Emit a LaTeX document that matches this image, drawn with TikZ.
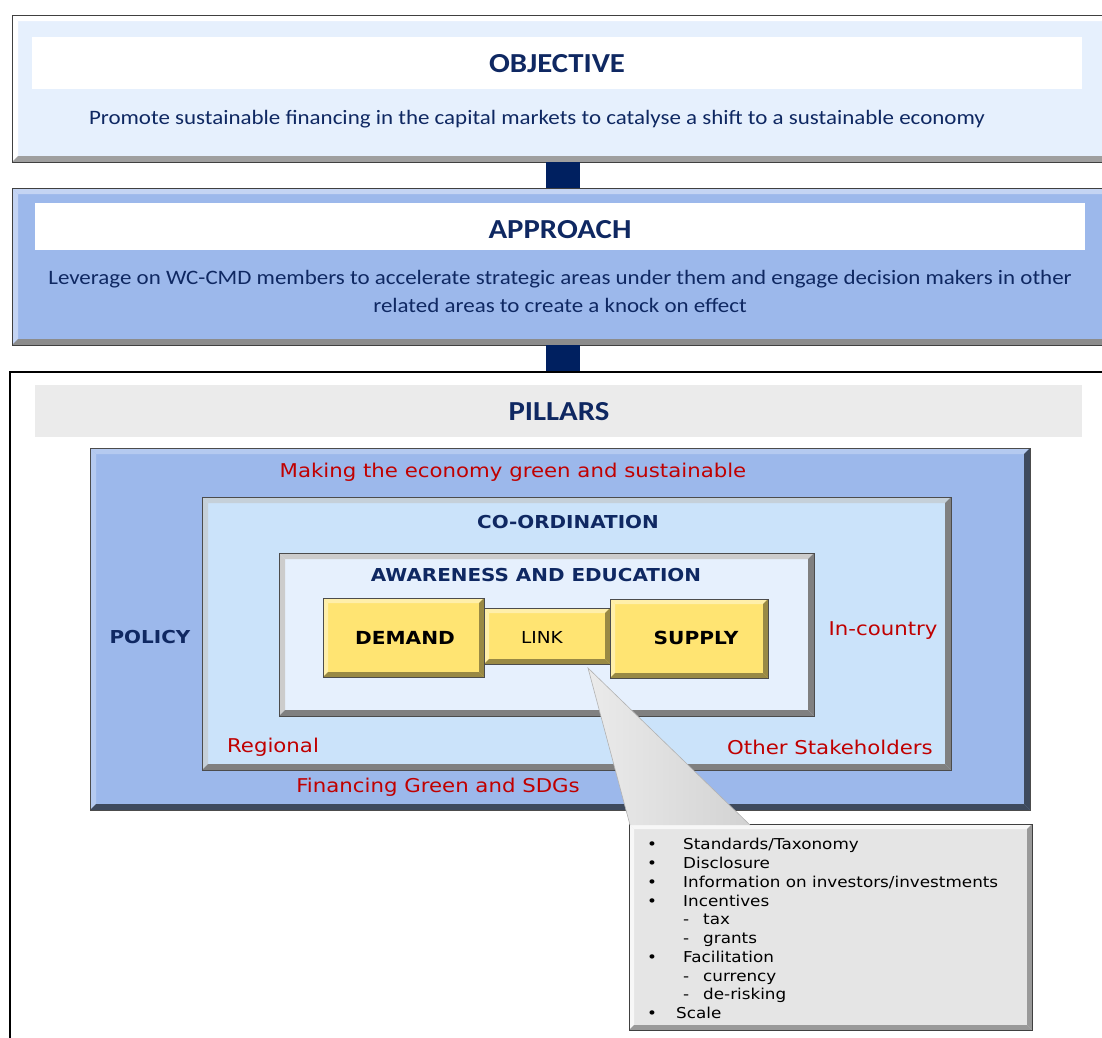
\documentclass[tikz,border=0pt]{standalone}
\usepackage{fontspec}
\setmainfont[FakeStretch=1.12]{Carlito}
\newfontfamily\vfont[FakeStretch=1.12]{DejaVu Sans}
\definecolor{navy}{HTML}{0F2862}
\definecolor{barnavy}{HTML}{002060}
\definecolor{redtxt}{HTML}{C00000}
\definecolor{objfill}{HTML}{E6F0FD}
\definecolor{bluefill}{HTML}{9CB8EB}
\definecolor{coordfill}{HTML}{CBE3FA}
\definecolor{awfill}{HTML}{E6F0FD}
\definecolor{yel}{HTML}{FFE472}
\definecolor{callfill}{HTML}{E5E5E5}
\tikzset{
  box/.style={anchor=north west, inner sep=0pt, outer sep=0pt, fill=#1},
  band/.style={anchor=north west, inner sep=0pt, outer sep=0pt, fill=#1},
  title/.style={font=\bfseries\fontsize{27.5}{32}\selectfont, text=navy, inner sep=0pt},
  body/.style={font=\fontsize{20.5}{28}\selectfont, text=navy, inner sep=0pt, align=center},
  redlab/.style={font=\vfont\fontsize{19}{22}\selectfont, text=redtxt, inner sep=0pt},
  navlab/.style={font=\vfont\bfseries\fontsize{17.8}{20}\selectfont, text=navy, inner sep=0pt},
  yellab/.style={font=\vfont\bfseries\fontsize{18}{20}\selectfont, text=black, inner sep=0pt},
  calltxt/.style={font=\vfont\fontsize{15}{18}\selectfont, text=black, inner sep=0pt, anchor=base west},
}
\newcommand\bevel[5]{%
 \fill[#3] (#1.north west) -- (#1.north east) -- ([shift={(-#2,-#2)}]#1.north east) -- ([shift={(#2,-#2)}]#1.north west) -- cycle;
 \fill[#3] (#1.north west) -- ([shift={(#2,-#2)}]#1.north west) -- ([shift={(#2,#2)}]#1.south west) -- (#1.south west) -- cycle;
 \fill[#4] (#1.south west) -- ([shift={(#2,#2)}]#1.south west) -- ([shift={(-#2,#2)}]#1.south east) -- (#1.south east) -- cycle;
 \fill[#4] (#1.north east) -- (#1.south east) -- ([shift={(-#2,#2)}]#1.south east) -- ([shift={(-#2,-#2)}]#1.north east) -- cycle;
 \draw[#5, line width=1pt] (#1.north west) rectangle (#1.south east);
}
\begin{document}
\begin{tikzpicture}[x=1pt,y=-1pt]
\useasboundingbox[fill=white] (0,0) rectangle (1102,1037);
% OBJECTIVE
\node[box=objfill, minimum width=1100pt, minimum height=147pt] (obj) at (12,15) {};
\bevel{obj}{6pt}{white}{gray!75}{black!75}
\node[band=white, minimum width=1050pt, minimum height=52pt] (objband) at (32,37) {};
\node[title] (objt) at (557,64) {OBJECTIVE};
\node[body] (objx) at (537,119) {Promote sustainable financing in the capital markets to catalyse a shift to a sustainable economy};
% bar 1
\node[box=barnavy, minimum width=34pt, minimum height=26pt] (bar1) at (546,162) {};
% APPROACH
\node[box=bluefill, minimum width=1100pt, minimum height=157pt] (app) at (12,188) {};
\bevel{app}{6pt}{bluefill!60!white}{black!45}{black!75}
\node[band=white, minimum width=1050pt, minimum height=47pt] (appband) at (35,203) {};
\node[title] (appt) at (560,230) {APPROACH};
\node[body] (appx) at (560,291) {Leverage on WC-CMD members to accelerate strategic areas under them and engage decision makers in other\\related areas to create a knock on effect};
% bar 2
\node[box=barnavy, minimum width=34pt, minimum height=27pt] (bar2) at (546,345) {};
% PILLARS
\node[box=white, draw=black, line width=1.2pt, minimum width=1100pt, minimum height=680pt] (pil) at (10,372) {};
\node[band=black!8, minimum width=1047pt, minimum height=52pt] (pilband) at (35,385) {};
\node[title] (pilt) at (559,412) {PILLARS};
% outer blue
\node[box=bluefill, minimum width=940pt, minimum height=362pt] (outer) at (90,448) {};
\bevel{outer}{6pt}{bluefill!75!white}{black!60!bluefill}{black!70}
% coordination
\node[box=coordfill, minimum width=749pt, minimum height=273pt] (coord) at (202,497) {};
\bevel{coord}{6pt}{coordfill!60!gray!70!white}{black!50}{black!70}
% awareness
\node[box=awfill, minimum width=535pt, minimum height=163pt] (aw) at (279,553) {};
\bevel{aw}{6pt}{gray!40}{black!50}{black!70}
% yellow boxes
\node[box=yel, minimum width=161pt, minimum height=79pt] (dem) at (323,598) {};
\bevel{dem}{5pt}{yel!60!white}{yel!60!black}{black!70}
\node[box=yel, minimum width=126pt, minimum height=56pt] (link) at (484,608) {};
\bevel{link}{5pt}{yel!60!white}{yel!60!black}{black!70}
\node[box=yel, minimum width=158pt, minimum height=79pt] (sup) at (610,599) {};
\bevel{sup}{5pt}{yel!60!white}{yel!60!black}{black!70}
\node[yellab] (demt) at (405,638) {DEMAND};
\node[font=\vfont\fontsize{16.5}{18}\selectfont, inner sep=0pt] (linkt) at (542,637) {LINK};
\node[yellab] (supt) at (696,638) {SUPPLY};
% labels
\node[redlab] (mk) at (513,472) {Making the economy green and sustainable};
\node[navlab] (coordt) at (568,522) {CO-ORDINATION};
\node[navlab] (awt) at (536,575) {AWARENESS AND EDUCATION};
\node[navlab] (pol) at (150,637) {POLICY};
\node[redlab] (inc) at (883,631) {In-country};
\node[redlab] (reg) at (273,747) {Regional};
\node[redlab] (oth) at (830,747) {Other Stakeholders};
\node[redlab] (fin) at (438,787) {Financing Green and SDGs};
% callout
\node[box=callfill, minimum width=403pt, minimum height=206pt] (call) at (629,824) {};
\bevel{call}{5pt}{white!70!callfill}{black!40}{black!75}
\coordinate (tip) at (588,668);
\coordinate (bl) at (630,825);
\coordinate (br) at (750,825);
\shade[left color=white!60!gray!40, right color=gray!35] (tip) -- (bl) -- (br) -- cycle;
\draw[gray!60, line width=0.6pt] (bl) -- (tip) -- (br);
% callout text
\node[calltxt] (c1) at (647,849) {\makebox[36pt][l]{•}Standards/Taxonomy};
\node[calltxt] (c2) at (647,868) {\makebox[36pt][l]{•}Disclosure};
\node[calltxt] (c3) at (647,887) {\makebox[36pt][l]{•}Information on investors/investments};
\node[calltxt] (c4) at (647,906) {\makebox[36pt][l]{•}Incentives};
\node[calltxt] (c5) at (683,924) {\makebox[20pt][l]{-}tax};
\node[calltxt] (c6) at (683,943) {\makebox[20pt][l]{-}grants};
\node[calltxt] (c7) at (647,962) {\makebox[36pt][l]{•}Facilitation};
\node[calltxt] (c8) at (683,981) {\makebox[20pt][l]{-}currency};
\node[calltxt] (c9) at (683,999) {\makebox[20pt][l]{-}de-risking};
\node[calltxt] (c10) at (647,1018) {\makebox[29pt][l]{•}Scale};
\end{tikzpicture}
\end{document}
